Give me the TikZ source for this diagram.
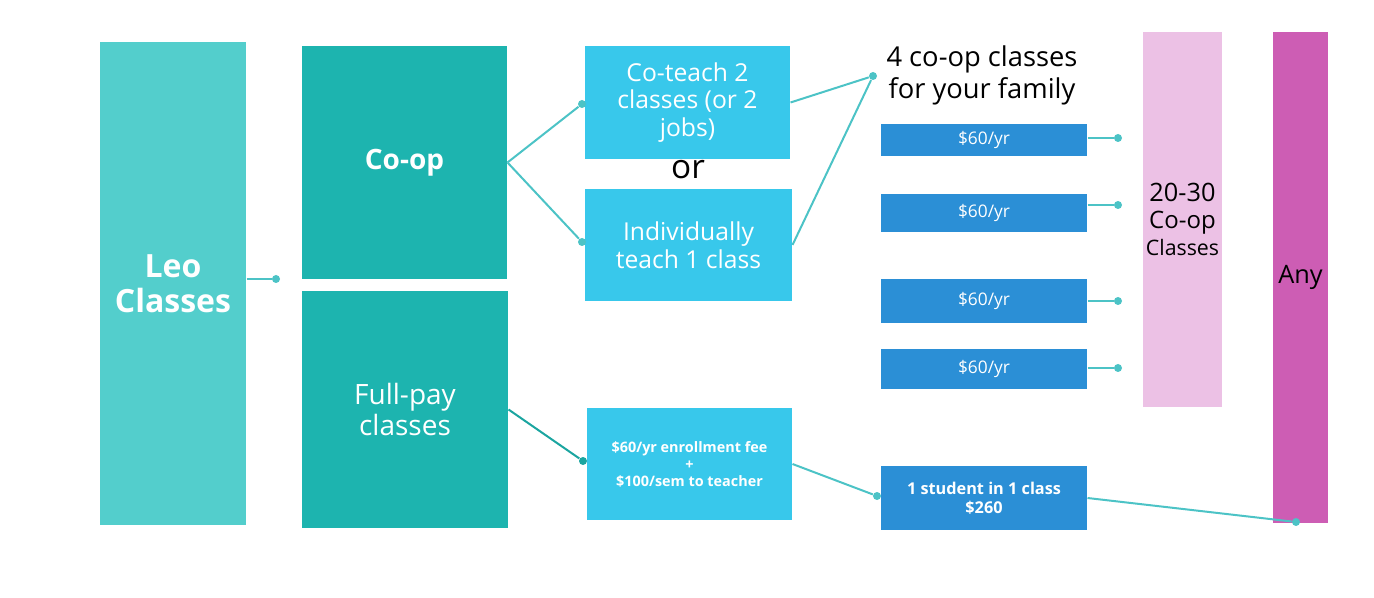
\documentclass[tikz,border=0pt]{standalone}
\usepackage{fontspec}
\setmainfont{Open Sans}
\usetikzlibrary{positioning}

\definecolor{leoteal}{HTML}{53CECC}
\definecolor{darkteal}{HTML}{1DB4AF}
\definecolor{skyblue}{HTML}{38C8EB}
\definecolor{midblue}{HTML}{2B8FD6}
\definecolor{palepink}{HTML}{ECC1E5}
\definecolor{magenta}{HTML}{CD5DB4}
\definecolor{linkteal}{HTML}{4CC3C6}
\definecolor{linkdark}{HTML}{1BA5A0}

\tikzset{every picture/.style={line width=0.75pt}}

\begin{document}
\begin{tikzpicture}[x=0.75pt,y=0.75pt,yscale=-1,xscale=1,
  box/.style={inner sep=0pt,text=white,align=center},
  link/.style={draw=linkteal,line width=1.5pt},
  dot/.style={circle,fill=linkteal,inner sep=0pt,minimum size=6pt}]
%set diagram size
\useasboundingbox (0,0) rectangle (1374,598);

%Shape: Rectangle
\node [box,fill=leoteal,minimum width=109.5pt,minimum height=362.25pt,font=\bfseries\fontsize{24}{26}\selectfont] (leo) at (173,283.5) {Leo\\Classes};
%Shape: Rectangle
\node [box,fill=darkteal,minimum width=153.75pt,minimum height=174.75pt,font=\bfseries\fontsize{21}{23}\selectfont] (coop) at (404.5,162.5) {Co-op};
%Shape: Rectangle
\node [box,fill=darkteal,minimum width=154.5pt,minimum height=177.75pt,font=\fontsize{21}{23.5}\selectfont] (fullpay) at (405,409.5) {Full-pay\\classes};
%Shape: Rectangle
\node [box,fill=skyblue,minimum width=153.75pt,minimum height=84.75pt,font=\fontsize{18.5}{20.6}\selectfont] (coteach) at (687.5,102.5) {Co-teach 2\\classes (or 2\\jobs)};
%Shape: Rectangle
\node [box,fill=skyblue,minimum width=155.25pt,minimum height=84pt,font=\fontsize{18.5}{21}\selectfont] (indiv) at (688.5,245) {Individually\\teach 1 class};
%Shape: Rectangle
\node [box,fill=skyblue,minimum width=153.75pt,minimum height=84pt,font=\bfseries\fontsize{10.8}{12.8}\selectfont] (enroll) at (689.5,464) {\$60/yr enrollment fee\\+\\\$100/sem to teacher};
%Shape: Rectangle
\node [box,fill=midblue,minimum width=154.5pt,minimum height=24pt,font=\fontsize{13}{15}\selectfont] (feea) at (984,140) {\$60/yr};
\node [box,fill=midblue,minimum width=154.5pt,minimum height=28.5pt,font=\fontsize{13}{15}\selectfont] (feeb) at (984,213) {\$60/yr};
\node [box,fill=midblue,minimum width=154.5pt,minimum height=33pt,font=\fontsize{13}{15}\selectfont] (feec) at (984,301) {\$60/yr};
\node [box,fill=midblue,minimum width=154.5pt,minimum height=30pt,font=\fontsize{13}{15}\selectfont] (feed) at (984,369) {\$60/yr};
%Shape: Rectangle
\node [box,fill=midblue,minimum width=154.5pt,minimum height=48pt,font=\bfseries\fontsize{12.2}{14.5}\selectfont] (student) at (984,498) {1 student in 1 class\\\$260};
%Shape: Rectangle
\node [box,fill=palepink,text=black,minimum width=59.25pt,minimum height=281.25pt,font=\fontsize{16}{20.5}\selectfont] (pink) at (1182.5,219.5) {{\fontsize{19}{21}\selectfont 20-30}\\{\fontsize{18}{20}\selectfont Co-op}\\Classes};
%Shape: Rectangle
\node [box,fill=magenta,text=black,minimum width=41.25pt,minimum height=368.25pt,font=\fontsize{19}{21}\selectfont] (any) at (1300.5,277.5) {Any};

% Text Node
\node [align=center,font=\fontsize{20.5}{24}\selectfont] (family) at (982,75) {4 co-op classes\\for your family};
% Text Node
\node [font=\fontsize{25}{28}\selectfont] (ortext) at (688,170) {or};

%Dots
\node [dot] (dleo) at (276,279) {};
\node [dot] (dcoteach) at (582,104) {};
\node [dot] (dindiv) at (582,242) {};
\node [dot] (dfamily) at (873,76) {};
\node [dot,fill=linkdark] (dfull) at (583,461) {};
\node [dot] (dstudent) at (877,496) {};
\node [dot] (dany) at (1296,522) {};
\node [dot] (dfeea) at (1118,138) {};
\node [dot] (dfeeb) at (1118,205) {};
\node [dot] (dfeec) at (1118,301) {};
\node [dot] (dfeed) at (1118,368) {};

%Straight Lines
\draw [link] (leo.east |- dleo) -- (dleo);
\draw [link] (coop.east) -- (dcoteach);
\draw [link] (coop.east) -- (dindiv);
\draw [link] (coteach.east) -- (dfamily);
\draw [link] (indiv.east) -- (dfamily);
\draw [link,draw=linkdark] (fullpay.east) -- (dfull);
\draw [link] (enroll.east) -- (dstudent);
\draw [link] (student.east) -- (dany);
\draw [link] (feea.east |- dfeea) -- (dfeea);
\draw [link] (feeb.east |- dfeeb) -- (dfeeb);
\draw [link] (feec.east |- dfeec) -- (dfeec);
\draw [link] (feed.east |- dfeed) -- (dfeed);

\end{tikzpicture}
\end{document}
